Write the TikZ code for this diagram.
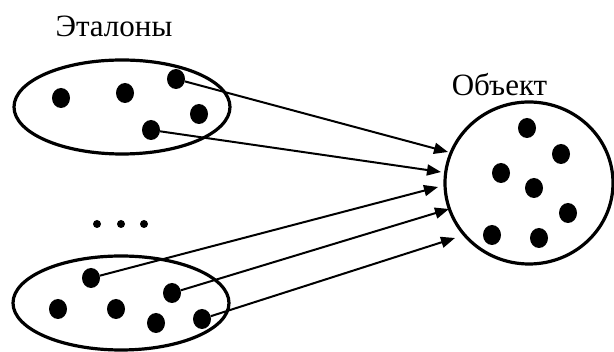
\documentclass[tikz,border=0pt]{standalone}
\usepackage{fontspec}
\setmainfont{Liberation Serif}
\newfontfamily\labelfont{Liberation Serif}
\usetikzlibrary{shapes.geometric,arrows.meta}
\tikzset{
  dot/.style={ellipse,fill=black,inner sep=0pt,minimum width=18pt,minimum height=20pt},
  smalldot/.style={circle,fill=black,inner sep=0pt,minimum size=8pt},
  group/.style={draw=black,line width=3.2pt},
  link/.style={line width=2pt,-{Triangle[length=14pt,width=11pt]}},
  label/.style={font=\labelfont\fontsize{31}{36}\selectfont,anchor=base,inner sep=0pt}
}
\begin{document}
\begin{tikzpicture}[x=1pt,y=-1pt]
\useasboundingbox (0,0) rectangle (614,352);

% labels
\node[label] (lblE) at (114,37) {Эталоны};
\node[label] (lblO) at (499.5,96) {Объект};

% first group of samples
\draw[group] (122,107) ellipse [x radius=108, y radius=47];
\node[dot] (a1) at (61,98) {};
\node[dot] (a2) at (125,93) {};
\node[dot] (a3) at (176,79) {};
\node[dot] (a4) at (199,114) {};
\node[dot] (a5) at (151,130) {};

% ellipsis
\node[smalldot] (e1) at (97,224) {};
\node[smalldot] (e2) at (121,224) {};
\node[smalldot] (e3) at (144,224) {};

% last group of samples
\draw[group] (121,303) ellipse [x radius=108, y radius=47];
\node[dot] (b1) at (91,278) {};
\node[dot] (b2) at (58,309) {};
\node[dot] (b3) at (116,309) {};
\node[dot] (b4) at (172,293) {};
\node[dot] (b5) at (156,323) {};
\node[dot] (b6) at (202,319) {};

% object
\draw[group] (529,183) ellipse [x radius=84, y radius=81];
\node[dot] (o1) at (527,128) {};
\node[dot] (o2) at (561,154) {};
\node[dot] (o3) at (501,173) {};
\node[dot] (o4) at (534,188) {};
\node[dot] (o5) at (568,213) {};
\node[dot] (o6) at (492,235) {};
\node[dot] (o7) at (539,238) {};

% arrow tips at the object's border
\coordinate (t1) at (448,152);
\coordinate (t2) at (441,172);
\coordinate (t3) at (438,187);
\coordinate (t4) at (449,209);
\coordinate (t5) at (455,238);

\draw[link] (a3) -- (t1);
\draw[link] (a5) -- (t2);
\draw[link] (b1) -- (t3);
\draw[link] (b4) -- (t4);
\draw[link] (b6) -- (t5);
\end{tikzpicture}
\end{document}
